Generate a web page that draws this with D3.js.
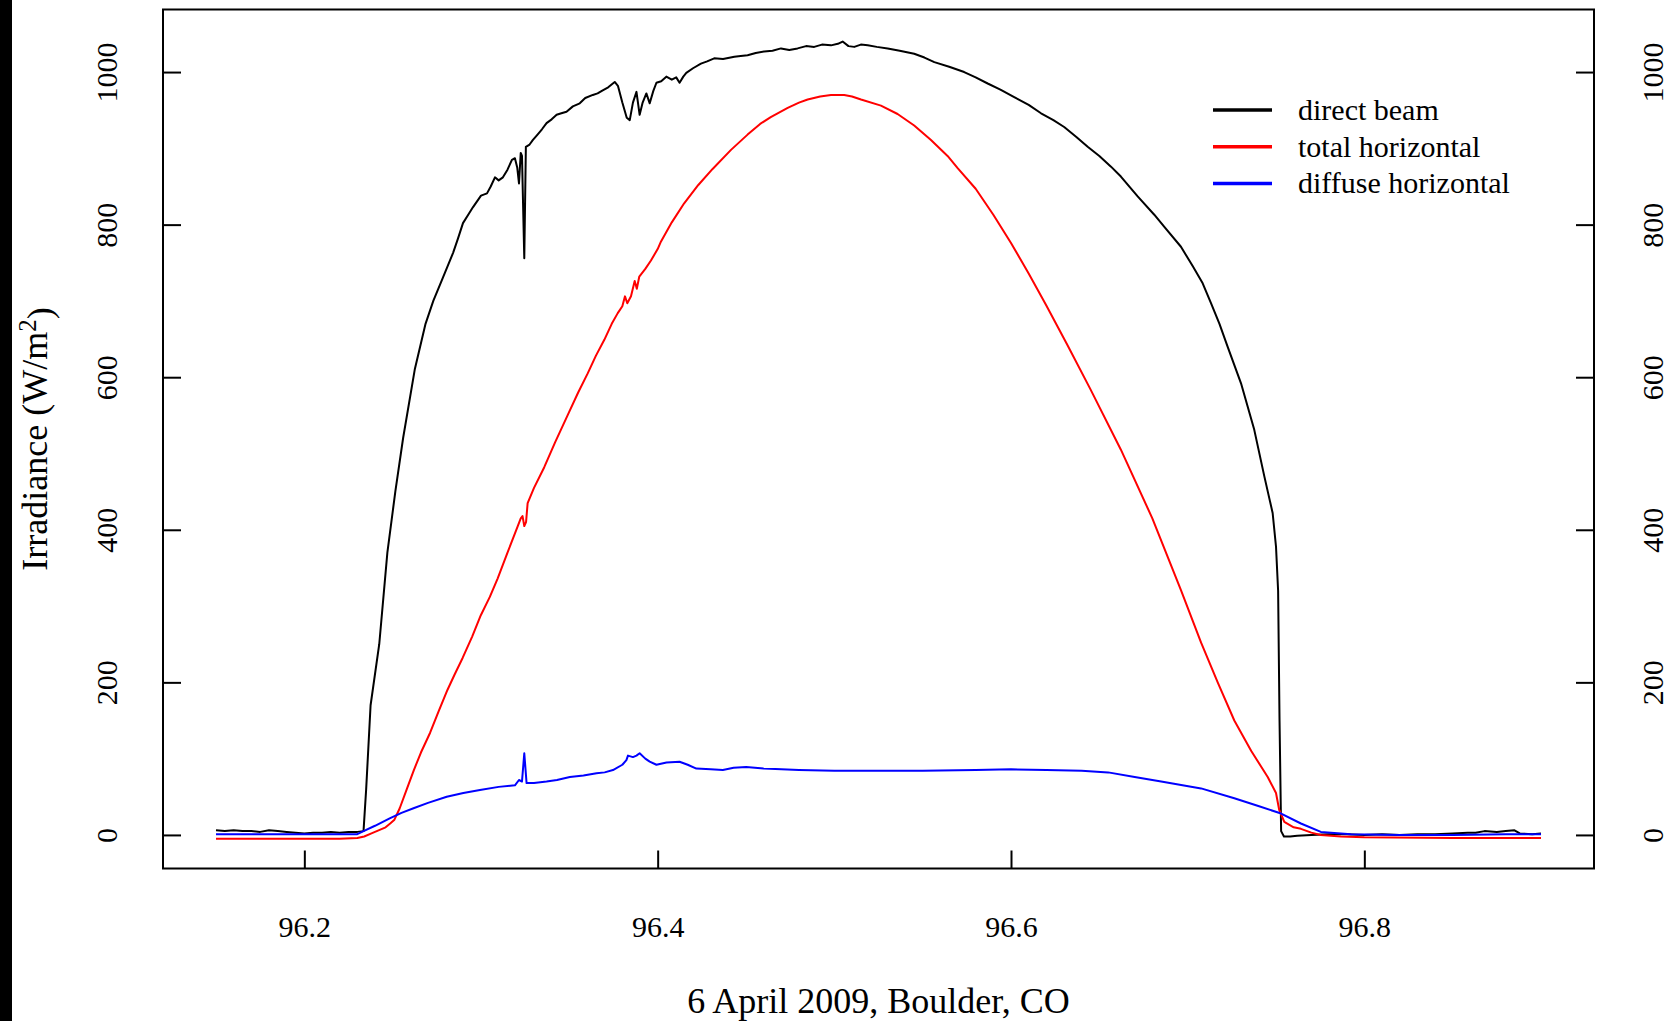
<!DOCTYPE html>
<html>
<head>
<meta charset="utf-8">
<script src="https://cdn.jsdelivr.net/npm/d3@7"></script>
<style>
  body { margin: 0; background: #fff; }
  text { font-family: "Liberation Serif", "Times New Roman", serif; fill: #000; }
</style>
</head>
<body>
<div class="chart"></div>
<script>
// setup chart dimensions
var svgWidth = 1673;
var svgHeight = 1021;

// plot frame (pixels)
var margin = {
  top: 9.5,
  right: 79,
  bottom: 152.5,
  left: 163
};

var chartWidth = svgWidth - margin.left - margin.right;
var chartHeight = svgHeight - margin.top - margin.bottom;

// day of year (fraction) for each series
var beamTime = [
  96.150, 96.155, 96.160, 96.165, 96.170, 96.175, 96.180, 96.185, 96.190, 96.195,
  96.200, 96.205, 96.210, 96.215, 96.220, 96.225, 96.230, 96.2335, 96.2350, 96.2375,
  96.2424, 96.2470, 96.2515, 96.2559, 96.2625, 96.2686, 96.2730, 96.2778, 96.2810, 96.2842,
  96.2870, 96.2898, 96.2925, 96.2955, 96.3000, 96.3034, 96.3055, 96.3079, 96.3100, 96.3124,
  96.3150, 96.3175, 96.3192, 96.3205, 96.3215, 96.3225, 96.3232, 96.3245, 96.3254, 96.3275,
  96.3294, 96.3320, 96.3345, 96.3371, 96.3400, 96.3428, 96.3455, 96.3484, 96.3520, 96.3559,
  96.3590, 96.3633, 96.3660, 96.3689, 96.3720, 96.3757, 96.3775, 96.3800, 96.3825, 96.3842,
  96.3860, 96.3880, 96.3898, 96.3915, 96.3936, 96.3955, 96.3975, 96.3993, 96.4020, 96.4049,
  96.4080, 96.4105, 96.4124, 96.4145, 96.4162, 96.4200, 96.4245, 96.4280, 96.4320, 96.4370,
  96.4434, 96.4470, 96.4509, 96.4555, 96.4603, 96.4650, 96.4698, 96.4745, 96.4792, 96.4840,
  96.4886, 96.4930, 96.4981, 96.5020, 96.5047, 96.5080, 96.5113, 96.5150, 96.5189, 96.5240,
  96.5302, 96.5370, 96.5452, 96.5510, 96.5566, 96.5650, 96.5735, 96.5800, 96.5868, 96.5940,
  96.6018, 96.6100, 96.6170, 96.6240, 96.6301, 96.6370, 96.6434, 96.6500, 96.6566, 96.6622,
  96.6717, 96.6811, 96.6868, 96.6962, 96.7030, 96.7085, 96.7132, 96.7180, 96.7226, 96.7302,
  96.7377, 96.7434, 96.7481, 96.7500, 96.7512, 96.7520, 96.7529, 96.7545, 96.7580, 96.7620,
  96.7700, 96.7800, 96.7900, 96.8000, 96.8100, 96.8200, 96.8300, 96.8400, 96.8500, 96.8585,
  96.8630, 96.8680, 96.8750, 96.8800, 96.8850, 96.8880, 96.8950, 96.9000
];
var beamValues = [
  6, 5, 6, 5, 5, 4, 6, 5, 4, 3,
  2, 3, 3, 4, 3, 4, 4, 5, 60, 170,
  250, 370, 450, 520, 610, 670, 700, 727, 745, 763,
  782, 802, 812, 823, 838, 841, 850, 862, 858, 862,
  872, 885, 887, 875, 854, 894, 890, 756, 902, 905,
  911, 918, 925, 933, 938, 944, 946, 948, 955, 959,
  966, 970, 972, 976, 980, 987, 982, 960, 940, 937,
  960, 974, 944, 960, 972, 959, 975, 986, 988, 994,
  990, 993, 986, 994, 999, 1005, 1011, 1014, 1018, 1017,
  1020, 1021, 1022, 1025, 1027, 1028, 1031, 1029, 1031, 1034,
  1033, 1036, 1035, 1037, 1040, 1034, 1033, 1036, 1035, 1033,
  1031, 1028, 1024, 1019, 1013, 1007, 1000, 993, 985, 977,
  967, 957, 946, 937, 928, 915, 902, 890, 876, 863,
  837, 813, 797, 771, 745, 723, 697, 670, 640, 592,
  531, 470, 422, 378, 320, 150, 5, -2, -2, -1,
  0, 1, 1, 0, 1, 0, 1, 1, 2, 3,
  3, 5, 4, 5, 6, 2, 1, 2
];

var totalTime = [
  96.150, 96.180, 96.200, 96.220, 96.2300, 96.2339, 96.2380, 96.2420, 96.2460, 96.2486,
  96.2510, 96.2540, 96.2580, 96.2620, 96.2660, 96.2712, 96.2760, 96.2810, 96.2850, 96.2896,
  96.2950, 96.2999, 96.3050, 96.3094, 96.3150, 96.3207, 96.3225, 96.3235, 96.3245, 96.3255,
  96.3264, 96.3300, 96.3358, 96.3420, 96.3490, 96.3550, 96.3604, 96.3650, 96.3698, 96.3740,
  96.3774, 96.3800, 96.3815, 96.3828, 96.3849, 96.3870, 96.3882, 96.3896, 96.3930, 96.3962,
  96.4000, 96.4019, 96.4080, 96.4150, 96.4230, 96.4311, 96.4415, 96.4509, 96.4580, 96.4640,
  96.4736, 96.4800, 96.4849, 96.4920, 96.4981, 96.5056, 96.5100, 96.5151, 96.5264, 96.5358,
  96.5452, 96.5547, 96.5641, 96.5698, 96.5800, 96.5900, 96.6000, 96.6100, 96.6200, 96.6320,
  96.6450, 96.6622, 96.6800, 96.6962, 96.7076, 96.7170, 96.7264, 96.7360, 96.7453, 96.7500,
  96.7518, 96.7547, 96.7600, 96.7641, 96.7700, 96.7754, 96.7867, 96.8000, 96.8500, 96.9000
];
var totalValues = [
  -5, -5, -5, -5, -4, -2, 2, 6, 10, 15,
  20, 35, 60, 85, 108, 134, 162, 190, 210, 232,
  260, 288, 312, 336, 370, 404, 415, 418, 405, 410,
  435, 455, 482, 515, 550, 580, 605, 628, 649, 670,
  684, 693, 706, 697, 706, 726, 716, 732, 742, 753,
  768, 778, 803, 828, 852, 873, 898, 918, 932, 941,
  953, 960, 964, 968, 970, 970, 968, 964, 956, 945,
  930, 911, 890, 874, 847, 813, 776, 736, 694, 642,
  584, 505, 415, 321, 252, 200, 150, 110, 76, 55,
  33, 17, 10, 8, 3, 0, -2, -3, -4, -4
];

var diffuseTime = [
  96.150, 96.200, 96.230, 96.2335, 96.2400, 96.2486, 96.2550, 96.2618, 96.2700, 96.2806,
  96.2900, 96.2994, 96.3100, 96.3192, 96.3215, 96.3232, 96.3245, 96.3258, 96.3300, 96.3371,
  96.3430, 96.3503, 96.3580, 96.3654, 96.3700, 96.3747, 96.3800, 96.3823, 96.3832, 96.3860,
  96.3880, 96.3898, 96.3930, 96.3955, 96.3993, 96.4050, 96.4124, 96.4170, 96.4219, 96.4300,
  96.4369, 96.4430, 96.4501, 96.4600, 96.4700, 96.4800, 96.5000, 96.5200, 96.5500, 96.5800,
  96.6000, 96.6200, 96.6400, 96.6550, 96.6700, 96.6850, 96.7076, 96.7264, 96.7400, 96.7529,
  96.7641, 96.7754, 96.7924, 96.8200, 96.8500, 96.8800, 96.9000
];
var diffuseValues = [
  1, 1, 1, 5, 12, 22, 29, 35, 42, 50,
  55, 59, 63, 65, 72, 70, 107, 68, 68, 70,
  72, 76, 78, 81, 82, 85, 92, 98, 104, 102,
  104, 107, 100, 96, 92, 95, 96, 92, 87, 86,
  85, 88, 89, 87, 86, 85, 84, 84, 84, 85,
  86, 85, 84, 82, 76, 70, 61, 48, 38, 28,
  15, 4, 1, 0, 0, 1, 1
];

// axis ticks and legend
var xTicks = [96.2, 96.4, 96.6, 96.8];
var yTicks = [0, 200, 400, 600, 800, 1000];
var seriesNames = ["direct beam", "total horizontal", "diffuse horizontal"];
var seriesColors = ["#000000", "#ff0000", "#0000ff"];

var series = [
  d3.zip(beamTime, beamValues),
  d3.zip(totalTime, totalValues),
  d3.zip(diffuseTime, diffuseValues)
];

var svg = d3.select(".chart")
  .append("svg")
  .attr("width", svgWidth)
  .attr("height", svgHeight);

svg.append("rect")
  .attr("width", svgWidth)
  .attr("height", svgHeight)
  .attr("fill", "#fff");

// dark strip on the left edge of the picture
svg.append("rect")
  .attr("width", 12)
  .attr("height", svgHeight)
  .attr("fill", "#000");

var chartGroup = svg.append("g")
  .attr("transform", `translate(${margin.left}, ${margin.top})`);

// scales
var xLinearScale = d3.scaleLinear()
  .domain([96.12, 96.93])
  .range([0, chartWidth]);

var yLinearScale = d3.scaleLinear()
  .domain([-44, 1082])
  .range([chartHeight, 0]);

// axes, ticks pointing into the plot
var bottomAxis = d3.axisBottom(xLinearScale)
  .tickValues(xTicks)
  .tickSizeInner(-18)
  .tickSizeOuter(0)
  .tickFormat(d3.format(".1f"));

var leftAxis = d3.axisLeft(yLinearScale)
  .tickValues(yTicks)
  .tickSizeInner(-18)
  .tickSizeOuter(0)
  .tickFormat(d3.format("d"));

var rightAxis = d3.axisRight(yLinearScale)
  .tickValues(yTicks)
  .tickSizeInner(-18)
  .tickSizeOuter(0)
  .tickFormat(d3.format("d"));

var xAxis = chartGroup.append("g")
  .attr("transform", `translate(0, ${chartHeight})`)
  .call(bottomAxis);

xAxis.selectAll("text")
  .attr("y", 68.5)
  .attr("dy", null)
  .style("font-size", "30px");

var yAxisLeft = chartGroup.append("g")
  .call(leftAxis);

yAxisLeft.selectAll("text")
  .attr("x", null)
  .attr("dy", null)
  .attr("text-anchor", "middle")
  .attr("transform", "translate(-46, 0) rotate(-90)")
  .style("font-size", "30px");

var yAxisRight = chartGroup.append("g")
  .attr("transform", `translate(${chartWidth}, 0)`)
  .call(rightAxis);

yAxisRight.selectAll("text")
  .attr("x", null)
  .attr("dy", null)
  .attr("text-anchor", "middle")
  .attr("transform", "translate(69, 0) rotate(-90)")
  .style("font-size", "30px");

chartGroup.selectAll(".domain").remove();
chartGroup.selectAll(".tick line")
  .attr("stroke", "#000")
  .attr("stroke-width", 2);

// box around the plot
chartGroup.append("rect")
  .attr("width", chartWidth)
  .attr("height", chartHeight)
  .attr("fill", "none")
  .attr("stroke", "#000")
  .attr("stroke-width", 2);

// the three irradiance lines
var lineGen = d3.line()
  .x(d => xLinearScale(d[0]))
  .y(d => yLinearScale(d[1]));

chartGroup.selectAll(".series")
  .data(series)
  .enter()
  .append("path")
  .attr("class", "series")
  .attr("d", lineGen)
  .attr("fill", "none")
  .attr("stroke", (d, i) => seriesColors[i])
  .attr("stroke-width", 2)
  .attr("stroke-linejoin", "round");

// legend
var legendGroup = svg.append("g")
  .attr("transform", "translate(1213, 110)");

var legendItems = legendGroup.selectAll("g")
  .data(seriesNames)
  .enter()
  .append("g")
  .attr("transform", (d, i) => `translate(0, ${i * 36.7})`);

legendItems.append("line")
  .attr("x1", 0)
  .attr("x2", 59)
  .attr("stroke", (d, i) => seriesColors[i])
  .attr("stroke-width", 3.5);

legendItems.append("text")
  .attr("x", 85)
  .attr("dy", "0.33em")
  .style("font-size", "30px")
  .text(d => d);

// axis titles
svg.append("text")
  .attr("x", margin.left + chartWidth / 2)
  .attr("y", 1013)
  .attr("text-anchor", "middle")
  .style("font-size", "36px")
  .text("6 April 2009, Boulder, CO");

var yTitle = svg.append("text")
  .attr("transform", `translate(47, ${margin.top + chartHeight / 2}) rotate(-90)`)
  .attr("text-anchor", "middle")
  .style("font-size", "36px");

yTitle.append("tspan").text("Irradiance (W/m");
yTitle.append("tspan")
  .attr("dy", "-0.45em")
  .style("font-size", "25px")
  .text("2");
yTitle.append("tspan")
  .attr("dy", "0.45em")
  .text(")");
</script>
</body>
</html>
